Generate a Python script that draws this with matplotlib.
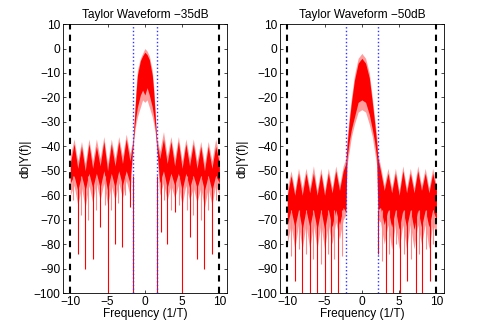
import numpy as np
import matplotlib.pyplot as plt

plt.rcParams['font.family'] = ['Liberation Sans', 'DejaVu Sans']
plt.rcParams['font.size'] = 8.6
plt.rcParams['axes.linewidth'] = 0.6

# ---- Taylor -35 dB : spectrum envelope ----
f35 = [-10, -9.5, -9, -8.5, -8, -7.5, -7, -6.5, -6, -5.5, -5, -4.5, -4, -3.5, -3, -2.5, -2, -1.6,
       -1.4, -1.2, -1.0, -0.6, -0.3, 0, 0.3, 0.6, 1.0, 1.2, 1.4,
       1.6, 2, 2.5, 3, 3.5, 4, 4.5, 5, 5.5, 6, 6.5, 7, 7.5, 8, 8.5, 9, 9.5, 10]
up_pink35 = [-44, -37, -46, -38, -47, -37, -46, -37, -45, -36, -47, -37, -45, -36, -44, -35, -43, -37,
             -27, -17, -9, -4, -2, 0, -1, -3, -9, -16, -26,
             -36, -42, -34, -44, -36, -45, -36, -46, -37, -45, -37, -46, -38, -47, -38, -46, -37, -44]
up_red35 = [-47, -39, -49, -40, -50, -39, -49, -40, -48, -38, -50, -39, -48, -38, -47, -37, -46, -38,
            -29, -19, -11, -5, -3, -1.5, -2.5, -4.5, -11, -18, -28,
            -38, -45, -37, -47, -38, -48, -38, -49, -39, -48, -39, -49, -40, -50, -40, -49, -40, -47]
lo_red35 = [-55, -52, -58, -52, -58, -51, -57, -51, -57, -50, -58, -51, -57, -50, -56, -50, -55, -40,
            -33, -28, -24, -19, -17, -19, -16, -19, -24, -28, -33,
            -40, -55, -50, -57, -51, -56, -51, -58, -51, -57, -52, -57, -52, -58, -52, -58, -52, -55]
lo_pink35 = [-60, -56, -64, -57, -65, -56, -63, -55, -62, -55, -64, -56, -62, -55, -61, -54, -60, -42,
             -35, -31, -28, -24, -21, -22, -21, -24, -28, -31, -35,
             -42, -60, -55, -62, -56, -61, -56, -64, -56, -62, -57, -63, -57, -65, -57, -64, -56, -60]
null_f35 = [-9, -8, -7, -6, -5, -4, -3, -2, -1.6, 1.6, 2.2, 3, 4, 5, 6, 7, 8, 9]
null_db35 = [-84, -90, -86, -73, -100, -80, -81, -65, -100, -100, -75, -80, -67, -100, -77, -86, -90, -84]
minor_f35 = [-9.7, -8.6, -7.6, -6.6, -5.4, -4.5, -3.6, -2.6, 2.6, 3.5, 4.6, 5.6, 6.5, 7.6, 8.5, 9.6]
minor_db35 = [-62, -68, -70, -66, -64, -66, -63, -60, -62, -66, -64, -66, -68, -70, -66, -62]
band35 = 1.6

# ---- Taylor -50 dB ----
f50 = [-10, -9.5, -9, -8.5, -8, -7.5, -7, -6.5, -6, -5.5, -5, -4.5, -4, -3.5, -3, -2.5, -2.15,
       -2.0, -1.7, -1.4, -1.0, -0.5, 0, 0.5, 1.0, 1.4, 1.7, 2.0,
       2.15, 2.5, 3, 3.5, 4, 4.5, 5, 5.5, 6, 6.5, 7, 7.5, 8, 8.5, 9, 9.5, 10]
up_pink50 = [-57, -50, -58, -49, -57, -49, -57, -48, -58, -49, -58, -49, -57, -48, -56, -48, -45,
             -37, -28, -20, -11, -4, -2, -4, -10, -20, -28, -36,
             -43, -48, -56, -49, -57, -49, -58, -48, -57, -49, -57, -48, -56, -49, -57, -49, -56]
up_red50 = [-60, -52, -60, -51, -60, -51, -59, -51, -60, -51, -60, -51, -59, -50, -58, -50, -47,
            -40, -30, -22, -13, -6, -4, -6, -12, -22, -30, -39,
            -45, -50, -58, -51, -59, -51, -60, -50, -59, -51, -59, -50, -58, -51, -59, -51, -58]
lo_red50 = [-72, -66, -73, -66, -74, -66, -73, -66, -74, -66, -74, -66, -73, -66, -72, -65, -67,
            -45, -38, -33, -28, -22, -21, -22, -27, -33, -38, -45,
            -66, -65, -72, -66, -73, -66, -74, -66, -73, -66, -74, -66, -73, -66, -73, -66, -70]
lo_pink50 = [-80, -72, -82, -72, -82, -72, -82, -72, -82, -72, -82, -72, -80, -71, -78, -70, -68,
             -48, -42, -36, -31, -26, -25, -26, -31, -36, -42, -48,
             -70, -71, -80, -72, -82, -72, -82, -72, -82, -72, -82, -72, -80, -72, -82, -72, -76]
null_f50 = [-9, -8, -7, -6, -5, -4.2, -3.2, 2.15, 3.2, 4.2, 5.1, 6.1, 7.2, 8.1, 9.1]
null_db50 = [-95, -100, -100, -100, -100, -100, -100, -84, -100, -100, -100, -95, -100, -100, -95]
minor_f50 = [-9.5, -8.5, -7.5, -6.6, -5.5, -4.6, -3.7, -2.7, 2.7, 3.7, 4.6, 5.6, 6.6, 7.6, 8.6, 9.6]
minor_db50 = [-85, -82, -84, -86, -88, -84, -86, -85, -87, -84, -80, -84, -86, -84, -82, -80]
band50 = 2.15

panels = [
    ('Taylor Waveform \u221235dB', f35, up_pink35, up_red35, lo_red35, lo_pink35,
     null_f35, null_db35, minor_f35, minor_db35, band35, -52),
    ('Taylor Waveform \u221250dB', f50, up_pink50, up_red50, lo_red50, lo_pink50,
     null_f50, null_db50, minor_f50, minor_db50, band50, -66),
]

fig = plt.figure(figsize=(4.91, 3.30), dpi=100)
lefts = [0.128, 0.570]

for left, p in zip(lefts, panels):
    (title, f, upp, upr, lor, lop, nf, nd, mf, md, band, ntop) = p
    ax = fig.add_axes([left, 0.112, 0.334, 0.815])
    ax.fill_between(f, lop, upp, color='#ff9c9c', lw=0)
    ax.fill_between(f, lor, upr, color='#ff0000', lw=0)
    ax.vlines(mf, md, ntop, color='#ff8a8a', lw=0.8)
    ax.vlines(nf, nd, ntop, color='#ff0000', lw=0.8)
    for b in (-band, band):
        ax.axvline(b, color='#3333ff', ls=':', lw=1.0)
    for b in (-10, 10):
        ax.axvline(b, color='k', ls='--', lw=1.5, dashes=(3, 2.5))
    ax.set_xlim(-11, 11)
    ax.set_ylim(-100, 10)
    ax.set_xticks([-10, -5, 0, 5, 10])
    ax.set_yticks(np.arange(-100, 11, 10))
    ax.tick_params(direction='in', top=True, right=True, length=2.2, width=0.5, pad=2)
    ax.set_title(title, fontsize=8.6, pad=4.5)
    ax.set_xlabel('Frequency (1/T)', labelpad=0)
    ax.set_ylabel('db|Y(f)|', labelpad=1)

fig.savefig('out.png', dpi=100)
